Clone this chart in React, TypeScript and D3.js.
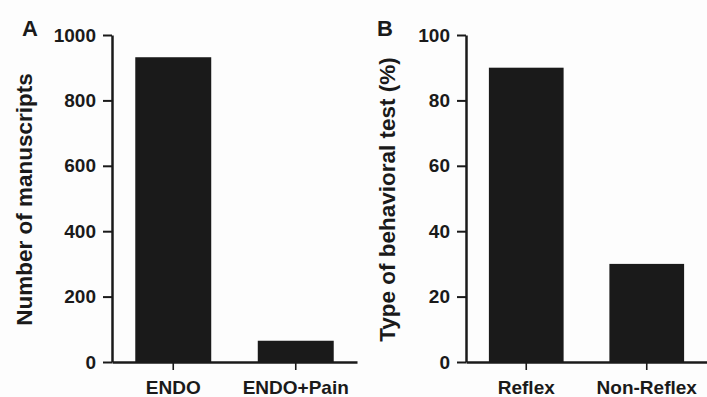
import React, { useEffect, useRef } from "react";
import * as d3 from "d3";

// panel A
const manuscriptCats = ["ENDO", "ENDO+Pain"];
const manuscriptCounts = [932, 65];
const manuscriptTicks = [0, 200, 400, 600, 800, 1000];

// panel B
const testCats = ["Reflex", "Non-Reflex"];
const testPercents = [90, 30];
const testTicks = [0, 20, 40, 60, 80, 100];

const W = 707;
const H = 397;
const INK = "#1a1a1a";
const FONT = "'Liberation Sans', Arial, Helvetica, sans-serif";

function drawPanel(svg, opts) {
  const { left, right, top, bottom, cats, values, max, ticks, title, letter, letterX, titleX } = opts;
  const g = svg.append("g");

  const x = d3.scaleBand().domain(cats).range([left, right]).paddingInner(0.38).paddingOuter(0.19);
  const y = d3.scaleLinear().domain([0, max]).range([bottom, top]);

  g.selectAll("rect.bar")
    .data(values)
    .enter()
    .append("rect")
    .attr("class", "bar")
    .attr("x", (d, i) => x(cats[i]))
    .attr("width", x.bandwidth())
    .attr("y", d => y(d))
    .attr("height", d => y(0) - y(d))
    .attr("fill", INK);

  const yAxis = g.append("g")
    .attr("transform", `translate(${left},0)`)
    .call(d3.axisLeft(y).tickValues(ticks).tickFormat(d3.format("d"))
      .tickSize(9).tickSizeOuter(0).tickPadding(7));

  const xAxis = g.append("g")
    .attr("transform", `translate(0,${bottom})`)
    .call(d3.axisBottom(x).tickSize(8).tickSizeOuter(0));

  [yAxis, xAxis].forEach(a => {
    a.select(".domain").attr("stroke", INK).attr("stroke-width", 2.5);
    a.selectAll(".tick line").attr("stroke", INK).attr("stroke-width", 2);
    a.selectAll(".tick text")
      .attr("fill", INK)
      .style("font-family", FONT)
      .style("font-weight", "bold")
      .style("font-size", "19px");
  });
  xAxis.selectAll(".tick line").attr("stroke-width", 1.6);
  xAxis.selectAll(".tick text").attr("y", 32).attr("dy", 0);

  g.append("text")
    .attr("transform", `translate(${titleX},${(top + bottom) / 2 + 1}) rotate(-90)`)
    .attr("text-anchor", "middle")
    .attr("fill", INK)
    .style("font-family", FONT)
    .style("font-weight", "bold")
    .style("font-size", "22.5px")
    .text(title);

  g.append("text")
    .attr("x", letterX)
    .attr("y", 36)
    .attr("fill", INK)
    .style("font-family", FONT)
    .style("font-weight", "bold")
    .style("font-size", "22px")
    .text(letter);
}

export default function App() {
  const ref = useRef(null);

  useEffect(() => {
    const svg = d3.select(ref.current);
    svg.selectAll("*").remove();

    drawPanel(svg, {
      left: 112, right: 357, top: 35, bottom: 362,
      cats: manuscriptCats, values: manuscriptCounts, max: 1000, ticks: manuscriptTicks,
      title: "Number of manuscripts", letter: "A", letterX: 22, titleX: 32,
    });

    drawPanel(svg, {
      left: 466, right: 707, top: 35, bottom: 362,
      cats: testCats, values: testPercents, max: 100, ticks: testTicks,
      title: "Type of behavioral test (%)", letter: "B", letterX: 377, titleX: 395,
    });
  }, []);

  return (
    <svg
      ref={ref}
      width={W}
      height={H}
      style={{ position: "absolute", left: 0, top: 0, background: "#fdfdfd" }}
    />
  );
}
